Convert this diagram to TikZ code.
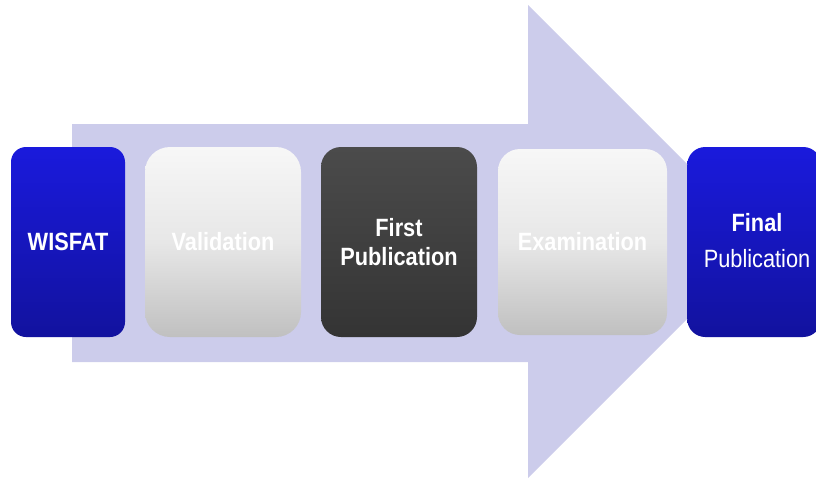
\documentclass[tikz,border=0pt]{standalone}
\usepackage{fontspec}
\setmainfont{Liberation Sans}
\newfontfamily\narrowsans[FakeStretch=0.87]{Liberation Sans}
\definecolor{arrowfill}{HTML}{CCCCEB}
\definecolor{bluetop}{HTML}{1A1ADC}
\definecolor{bluebot}{HTML}{12129E}
\definecolor{graytop}{HTML}{F7F7F7}
\definecolor{graymid}{HTML}{EEEEEE}
\definecolor{graybot}{HTML}{C0C0C0}
\definecolor{darktop}{HTML}{4B4B4B}
\definecolor{darkbot}{HTML}{343434}
\tikzset{
  stage/.style={inner sep=0pt, align=center, text=white,
    font=\narrowsans\fontsize{25}{29}\selectfont\bfseries},
  bluestage/.style={stage, top color=bluetop, bottom color=bluebot},
  graystage/.style={stage, top color=graytop, bottom color=graybot, middle color=graymid!85!graybot},
  darkstage/.style={stage, top color=darktop, bottom color=darkbot},
}
\begin{document}
\begin{tikzpicture}[x=1pt,y=-1pt]
\useasboundingbox (0,0) rectangle (816,479);
% big background arrow
\fill[arrowfill] (72,124) -- (528,124) -- (528,5) -- (764.5,241.5) -- (528,478) -- (528,362) -- (72,362) -- cycle;
% stages
\node[bluestage, rounded corners=15pt, minimum width=114pt, minimum height=190pt] (wisfat) at (68,242) {WISFAT};
\node[graystage, rounded corners=25pt, minimum width=156pt, minimum height=190pt] (valid) at (223,242) {Validation};
\node[darkstage, rounded corners=20pt, minimum width=156pt, minimum height=190pt] (first) at (399,242) {First\\Publication};
\node[graystage, rounded corners=22pt, minimum width=169pt, minimum height=186pt] (exam) at (582.5,242) {Examination};
\node[bluestage, rounded corners=18pt, minimum width=134pt, minimum height=190pt, anchor=west] (final) at (687,242) {};
\node[stage] (finaltext) at (757,241) {Final\\[7pt]\mdseries Publication};
\end{tikzpicture}
\end{document}
